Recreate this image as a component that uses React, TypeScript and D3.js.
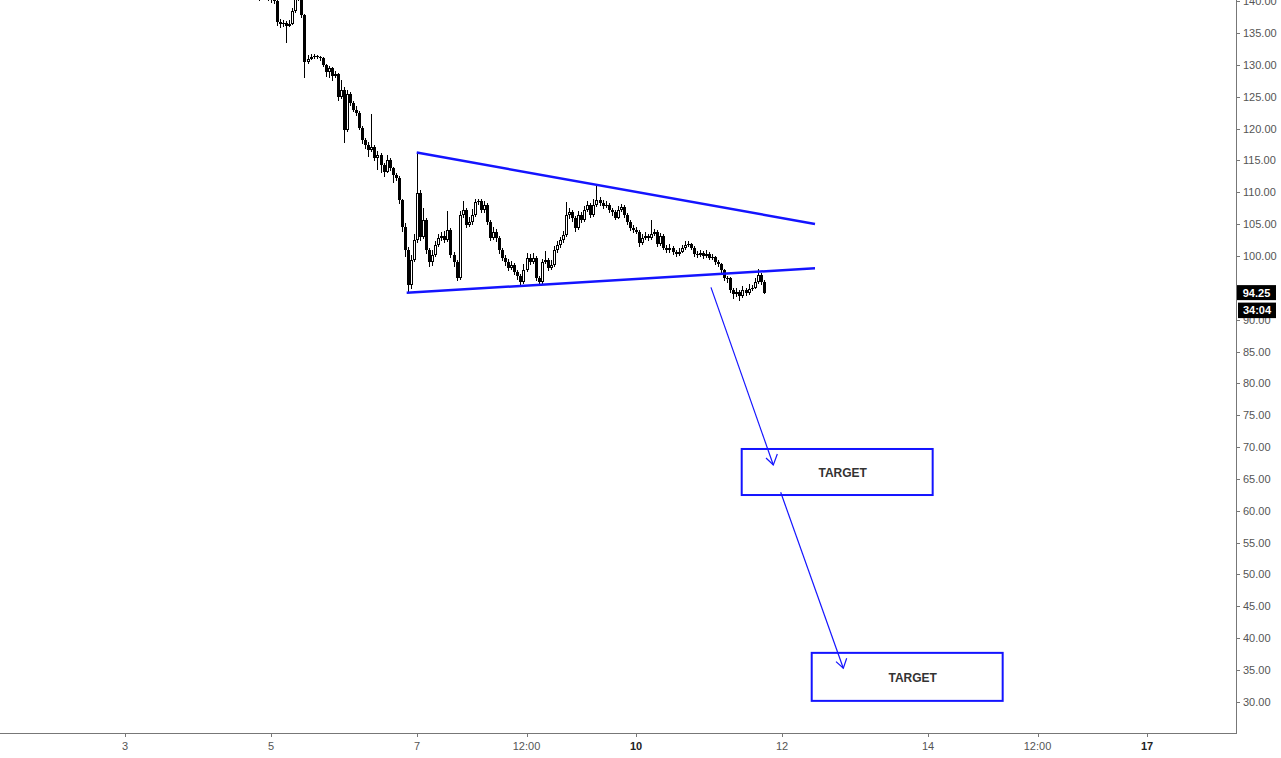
import React from 'react';
import * as d3 from 'd3';

const W = 1281;
const H = 758;
const PLOT_R = 1236;
const PLOT_B = 733;

// hourly candles, first candle time in days (day 4, 20:00)
const startDay = 4 + 20 / 24;
const firstOpen = 140.3;
const closes = [
  140.8, 141.3, 140.5, 140.9, 140.2, 140.0, 136.8, 136.4, 136.6, 136.2,
  136.5, 138.5, 140.5, 141.0, 137.8, 130.5, 131.0, 131.2, 131.4, 131.3,
  131.1, 130.0, 128.9, 129.5, 128.2, 128.6, 125.0, 126.1, 119.8, 125.5,
  124.0, 123.0, 122.5, 120.1, 118.2, 117.5, 116.7, 117.1, 115.4, 115.9,
  114.3, 113.2, 115.1, 113.8, 112.7, 112.3, 108.8, 104.6, 100.9, 95.4,
  99.4, 102.5, 109.9, 103.0, 105.7, 100.9, 99.0, 100.2, 101.7, 102.8,
  103.1, 102.5, 104.1, 100.2, 99.0, 96.5, 106.4, 107.2, 104.9, 105.3,
  106.4, 108.5, 108.6, 107.2, 108.0, 105.3, 102.8, 103.8, 102.8, 100.9,
  99.7, 99.0, 98.1, 98.6, 97.5, 96.9, 95.9, 97.8, 99.7, 99.0,
  99.7, 96.5, 95.9, 99.0, 99.4, 98.1, 98.6, 100.9, 101.7, 102.5,
  103.3, 106.4, 106.9, 106.0, 104.4, 106.4, 105.7, 107.2, 108.0, 106.4,
  108.0, 108.8, 108.3, 107.9, 108.0, 107.2, 106.9, 106.0, 107.2, 107.7,
  106.4, 105.3, 104.4, 104.1, 103.8, 102.0, 102.8, 103.1, 102.8, 103.5,
  103.8, 101.9, 103.1, 101.3, 100.9, 101.3, 100.6, 100.3, 100.6, 101.3,
  101.7, 101.9, 101.3, 100.3, 100.2, 100.5, 100.0, 100.3, 99.7, 99.8,
  99.0, 98.7, 97.8, 96.5, 96.5, 94.7, 94.0, 94.3, 93.7, 94.7,
  94.2, 94.8, 95.0, 95.9, 97.0, 95.9, 94.25,
];
const highs = [
  141.5, 141.8, 141.6, 141.2, 141.1, 140.6, 140.3, 137.2, 137.0, 136.9,
  137.1, 139.0, 141.0, 142.0, 141.5, 138.0, 131.5, 131.7, 131.8, 131.6,
  131.4, 131.2, 130.2, 129.9, 129.7, 129.0, 128.8, 127.7, 126.5, 126.0,
  125.8, 124.3, 123.6, 122.7, 120.4, 118.6, 117.9, 122.3, 117.4, 116.5,
  116.1, 114.6, 115.8, 115.4, 114.0, 113.0, 112.5, 109.0, 105.2, 101.4,
  100.2, 103.5, 116.2, 110.3, 107.5, 106.0, 101.2, 100.9, 102.3, 103.5,
  103.8, 103.9, 107.0, 104.4, 100.6, 99.3, 107.0, 108.6, 107.5, 106.1,
  107.4, 109.0, 109.0, 108.9, 108.6, 108.3, 105.7, 104.6, 104.2, 103.1,
  101.2, 100.1, 99.5, 99.2, 98.9, 97.8, 97.2, 98.7, 100.4, 100.3,
  100.5, 100.0, 96.9, 99.6, 100.8, 99.7, 99.3, 101.5, 102.4, 103.0,
  104.0, 108.5, 107.6, 107.2, 106.3, 107.0, 106.9, 107.9, 108.7, 108.3,
  108.9, 111.2, 109.3, 108.8, 108.6, 108.3, 107.5, 107.2, 107.9, 108.2,
  108.0, 106.7, 105.6, 104.9, 104.5, 104.1, 103.5, 103.8, 103.5, 105.6,
  104.3, 104.1, 103.6, 103.4, 101.7, 101.9, 101.6, 100.9, 101.2, 101.8,
  102.3, 102.4, 102.1, 101.5, 100.8, 101.0, 100.8, 100.9, 100.6, 100.3,
  100.0, 99.3, 98.9, 98.0, 96.9, 96.7, 95.0, 95.0, 94.6, 95.3,
  95.0, 95.6, 95.4, 96.5, 98.0, 97.4, 96.2,
];
const lows = [
  140.0, 140.5, 140.2, 140.1, 139.8, 139.5, 136.2, 135.8, 136.0, 133.4,
  135.9, 136.3, 138.2, 140.0, 137.4, 128.0, 130.1, 130.8, 131.0, 130.9,
  130.6, 129.7, 128.1, 127.9, 127.5, 127.9, 124.3, 124.6, 117.8, 119.5,
  123.6, 122.6, 122.0, 119.8, 117.6, 116.8, 115.5, 116.3, 114.9, 113.5,
  113.0, 112.4, 113.0, 113.3, 111.4, 111.8, 108.2, 103.8, 99.9, 94.4,
  94.8, 99.0, 102.0, 102.4, 102.6, 100.3, 98.3, 98.5, 99.8, 101.4,
  102.4, 102.0, 102.2, 99.7, 98.3, 96.1, 96.3, 105.9, 104.4, 104.5,
  104.9, 106.2, 108.0, 106.8, 106.8, 104.8, 102.3, 102.5, 102.2, 100.3,
  99.2, 98.5, 97.6, 97.8, 97.0, 96.3, 95.3, 95.6, 97.5, 98.6,
  98.7, 96.0, 95.3, 95.6, 98.7, 97.6, 97.8, 98.3, 100.5, 101.3,
  102.1, 103.0, 105.8, 105.4, 103.8, 104.1, 105.2, 105.4, 106.9, 105.9,
  106.1, 107.7, 107.9, 107.4, 107.5, 106.8, 106.3, 105.6, 105.8, 106.9,
  106.0, 104.9, 104.0, 103.6, 103.4, 101.4, 101.7, 102.5, 102.3, 102.5,
  103.1, 101.4, 101.6, 100.9, 100.4, 100.5, 100.2, 99.8, 100.0, 100.4,
  101.0, 101.4, 100.9, 99.9, 99.7, 99.9, 99.5, 99.7, 99.3, 99.4,
  98.6, 98.2, 97.4, 96.1, 95.8, 94.2, 93.3, 93.6, 93.0, 93.4,
  93.7, 93.9, 94.5, 94.8, 95.6, 95.5, 94.0,
];

// 95.00 is hidden behind the last-price label in the reference
const yTicks = [30, 35, 40, 45, 50, 55, 60, 65, 70, 75, 80, 85, 90, 100, 105, 110, 115, 120, 125, 130, 135, 140];
const xTicks = [3, 5, 7, 8.5, 10, 12, 14, 15.5, 17];
const xTickLabels = ['3', '5', '7', '12:00', '10', '12', '14', '12:00', '17'];
const boldXTicks = ['10', '17'];

const lastPrice = 94.25;
const countdown = '34:04';

// drawings in (day, price) coordinates
const triangleUpper = [[6.996, 116.24], [12.452, 105.03]];
const triangleLower = [[6.859, 94.23], [12.452, 98.07]];
const arrowLines = [
  [[11.027, 95.08], [11.881, 67.17]],
  [[11.982, 62.89], [12.84, 35.25]],
];
const arrowHeads = [
  [[11.781, 68.27], [11.881, 67.17], [11.936, 68.9]],
  [[12.74, 36.29], [12.84, 35.25], [12.886, 36.82]],
];
const targetBoxes = [
  [11.448, 14.064, 69.69, 62.46],
  [12.407, 15.023, 37.67, 30.13],
];
const targetLabelPos = [
  [11.53, 66.0],
  [12.49, 33.85],
];
const targetLabel = 'TARGET';

const BLUE = '#1414ff';
const FONT = '"Liberation Sans", Arial, sans-serif';

export default function App() {
  const x = d3.scaleLinear().domain([3, 17]).range([125, 1147]);
  const y = d3.scaleLinear().domain([30, 100]).range([701.7, 256]);
  const line = d3.line<number[]>().x((d) => x(d[0])).y((d) => y(d[1]));

  const candles = closes.map((c, i) => {
    const o = i === 0 ? firstOpen : closes[i - 1];
    const t = startDay + i / 24;
    return { t, o, c, h: highs[i], l: lows[i] };
  });

  return (
    <svg width={W} height={H} style={{ position: 'absolute', left: 0, top: 0, background: '#fff' }}>
      <defs>
        <clipPath id="plot">
          <rect x={0} y={0} width={PLOT_R} height={PLOT_B} />
        </clipPath>
      </defs>
      <rect x={0} y={0} width={W} height={H} fill="#fff" />
      <g clipPath="url(#plot)">
        {candles.map((d, i) => {
          const cx = Math.round(x(d.t));
          const top = Math.round(y(Math.max(d.o, d.c)));
          const bot = Math.max(top + 1, Math.round(y(Math.min(d.o, d.c))));
          const up = d.c >= d.o;
          return (
            <g key={i} shapeRendering="crispEdges">
              <line x1={cx + 0.5} x2={cx + 0.5} y1={y(d.h)} y2={y(d.l)} stroke="#000" strokeWidth={1} />
              <rect x={cx - 1} y={top} width={3} height={bot - top} fill="#000" />
              {up && bot - top > 2 && <rect x={cx} y={top + 1} width={1} height={bot - top - 2} fill="#fff" />}
            </g>
          );
        })}
        <path d={line(triangleUpper) || ''} stroke={BLUE} strokeWidth={2.5} fill="none" />
        <path d={line(triangleLower) || ''} stroke={BLUE} strokeWidth={2.5} fill="none" />
        {arrowLines.map((a, i) => (
          <path key={'a' + i} d={line(a) || ''} stroke={BLUE} strokeWidth={1.2} fill="none" />
        ))}
        {arrowHeads.map((a, i) => (
          <path key={'h' + i} d={line(a) || ''} stroke={BLUE} strokeWidth={1.2} fill="none" />
        ))}
        {targetBoxes.map((b, i) => (
          <g key={'b' + i}>
            <rect
              x={x(b[0])}
              y={y(b[2])}
              width={x(b[1]) - x(b[0])}
              height={y(b[3]) - y(b[2])}
              fill="none"
              stroke={BLUE}
              strokeWidth={2}
            />
            <text
              x={(x(b[0]) + x(b[1])) / 2 + 5.5}
              y={(y(b[2]) + y(b[3])) / 2 + 1}
              textAnchor="middle"
              dominantBaseline="central"
              fontFamily={FONT}
              fontWeight="bold"
              fontSize={12}
              fill="#333"
            >
              {targetLabel}
            </text>
          </g>
        ))}
      </g>

      {/* right price axis */}
      <line x1={PLOT_R + 0.5} x2={PLOT_R + 0.5} y1={0} y2={PLOT_B + 0.5} stroke="#777" strokeWidth={1} />
      {yTicks.map((v) => (
        <g key={'y' + v}>
          <line x1={PLOT_R} x2={PLOT_R + 4} y1={Math.round(y(v)) + 0.5} y2={Math.round(y(v)) + 0.5} stroke="#777" />
          <text x={PLOT_R + 7} y={y(v)} dominantBaseline="central" fontFamily={FONT} fontSize={11} fill="#555">
            {v.toFixed(2)}
          </text>
        </g>
      ))}

      {/* bottom time axis */}
      <line x1={0} x2={PLOT_R + 1} y1={PLOT_B + 0.5} y2={PLOT_B + 0.5} stroke="#777" strokeWidth={1} />
      {xTicks.map((v, i) => (
        <g key={'x' + i}>
          <line x1={Math.round(x(v)) + 0.5} x2={Math.round(x(v)) + 0.5} y1={PLOT_B} y2={PLOT_B + 4} stroke="#777" />
          <text
            x={x(v)}
            y={746}
            textAnchor="middle"
            dominantBaseline="central"
            fontFamily={FONT}
            fontSize={11}
            fontWeight={boldXTicks.includes(xTickLabels[i]) ? 'bold' : 'normal'}
            fill={boldXTicks.includes(xTickLabels[i]) ? '#222' : '#555'}
          >
            {xTickLabels[i]}
          </text>
        </g>
      ))}

      {/* last price & countdown labels */}
      <rect x={PLOT_R + 1} y={y(lastPrice) - 7.5} width={39} height={15} fill="#000" />
      <text
        x={PLOT_R + 20.5}
        y={y(lastPrice)}
        textAnchor="middle"
        dominantBaseline="central"
        fontFamily={FONT}
        fontSize={11}
        fontWeight="bold"
        fill="#fff"
      >
        {lastPrice.toFixed(2)}
      </text>
      <rect x={PLOT_R + 2} y={y(lastPrice) + 10} width={38} height={15.5} fill="#000" />
      <text
        x={PLOT_R + 21}
        y={y(lastPrice) + 17.8}
        textAnchor="middle"
        dominantBaseline="central"
        fontFamily={FONT}
        fontSize={11}
        fontWeight="bold"
        fill="#fff"
      >
        {countdown}
      </text>
    </svg>
  );
}
